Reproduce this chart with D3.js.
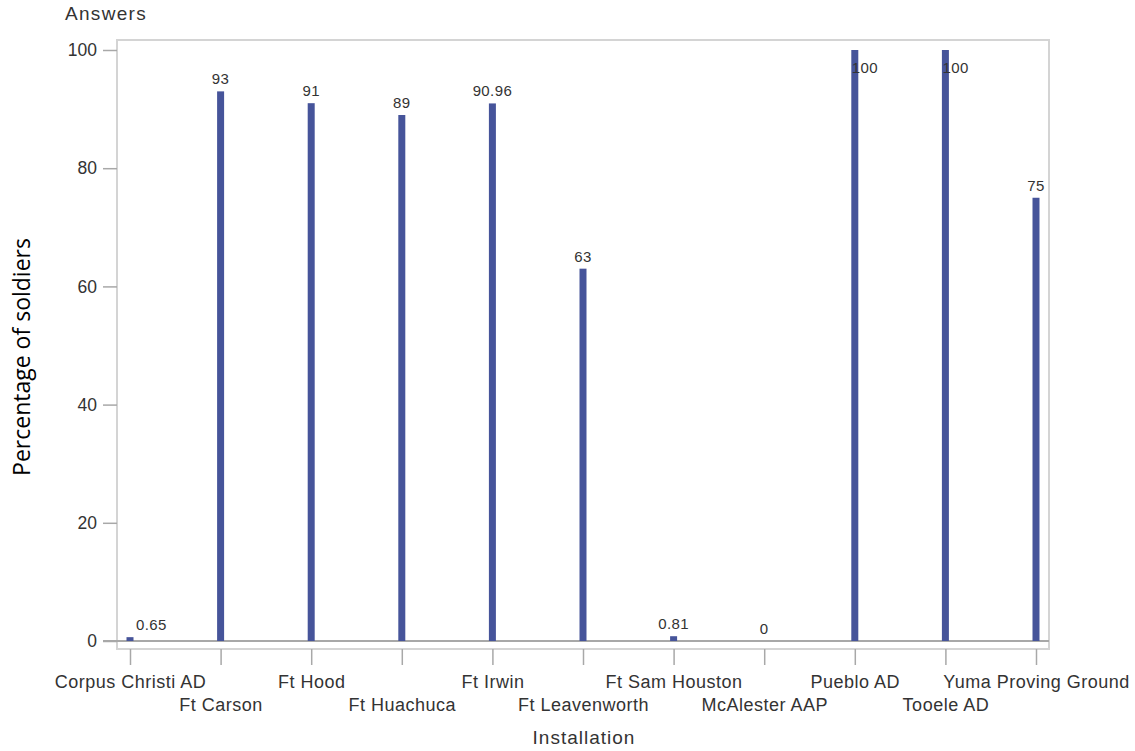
<!DOCTYPE html>
<html><head><meta charset="utf-8">
<script src="https://cdn.jsdelivr.net/npm/d3@7"></script>
<style>body{margin:0;background:#fff}svg{display:block}</style>
</head><body>
<svg id="c" width="1135" height="751"></svg>
<script>
const categories = ["Corpus Christi AD","Ft Carson","Ft Hood","Ft Huachuca","Ft Irwin","Ft Leavenworth","Ft Sam Houston","McAlester AAP","Pueblo AD","Tooele AD","Yuma Proving Ground"];
const values = [0.65, 93, 91, 89, 90.96, 63, 0.81, 0, 100, 100, 75];
const valueLabels = ["0.65","93","91","89","90.96","63","0.81","0","100","100","75"];
const yTicks = [0, 20, 40, 60, 80, 100];

const svg = d3.select("#c");
const F = {left:117, right:1049, top:40, bottom:649};
const font = "'Liberation Sans', Arial, sans-serif";
const txt = "#333";

const x = d3.scalePoint().domain(categories).range([F.left+13, F.right-13]);
const y = d3.scaleLinear().domain([0,100]).range([641, 50]);

// frame
svg.append("rect").attr("x",F.left).attr("y",F.top).attr("width",F.right-F.left).attr("height",F.bottom-F.top)
  .attr("fill","none").attr("stroke","#d4d4d4").attr("stroke-width",2);

// baseline at 0
svg.append("line").attr("x1",F.left-14).attr("x2",F.right).attr("y1",y(0)).attr("y2",y(0))
  .attr("stroke","#a8a8a8").attr("stroke-width",2);

// y axis
const ya = d3.axisLeft(y).tickValues(yTicks).tickSize(14).tickPadding(6).tickFormat(d3.format("d"));
const gy = svg.append("g").attr("transform",`translate(${F.left},0)`).call(ya);
gy.select(".domain").remove();
gy.selectAll(".tick line").attr("stroke","#a8a8a8").attr("stroke-width",1.5);
gy.selectAll(".tick text").attr("fill",txt).style("font-family",font).style("font-size","17.5px");

// x axis
const xa = d3.axisBottom(x).tickSize(16).tickPadding(0);
const gx = svg.append("g").attr("transform",`translate(0,${F.bottom})`).call(xa);
gx.select(".domain").remove();
gx.selectAll(".tick line").attr("stroke","#a8a8a8").attr("stroke-width",1.5);
gx.selectAll(".tick text").attr("fill",txt).style("font-family",font).style("font-size","18px")
  .style("letter-spacing","0.5px")
  .attr("y",(d,i)=> i%2===0 ? 39 : 62).attr("dy","0");

// bars
const bw = 7;
svg.append("g").selectAll("rect").data(values).join("rect")
  .attr("x",(d,i)=>x(categories[i])-bw/2).attr("width",bw)
  .attr("y",d=>y(d)).attr("height",d=>y(0)-y(d))
  .attr("fill","#46549a");

// value labels
svg.append("g").selectAll("text").data(values).join("text")
  .attr("fill",txt).style("font-family",font).style("font-size","15px").style("letter-spacing","0.4px")
  .each(function(d,i){
    const cx = x(categories[i]);
    const t = d3.select(this).text(valueLabels[i]);
    if (y(d) - 10 < F.top + 14) {
      t.attr("x", cx - 3).attr("y", y(d) + 23).attr("text-anchor","start");
    } else {
      const w = this.getComputedTextLength();
      if (cx - w/2 < F.left + 4) t.attr("x", cx + 6).attr("text-anchor","start");
      else t.attr("x", cx).attr("text-anchor","middle");
      t.attr("y", y(d) - 7);
    }
  });

// titles
svg.append("text").attr("x",65).attr("y",20).text("Answers")
  .attr("fill",txt).style("font-family",font).style("font-size","19px").style("letter-spacing","1.3px");
svg.append("text").attr("x",(F.left+F.right)/2+1).attr("y",744).attr("text-anchor","middle").text("Installation")
  .attr("fill",txt).style("font-family",font).style("font-size","19px").style("letter-spacing","1px");
svg.append("text").attr("transform","translate(30,357) rotate(-90)").attr("text-anchor","middle")
  .text("Percentage of soldiers").attr("fill","#000").style("font-family","'Open Sans', sans-serif")
  .style("font-size","23px");
</script>
</body></html>
